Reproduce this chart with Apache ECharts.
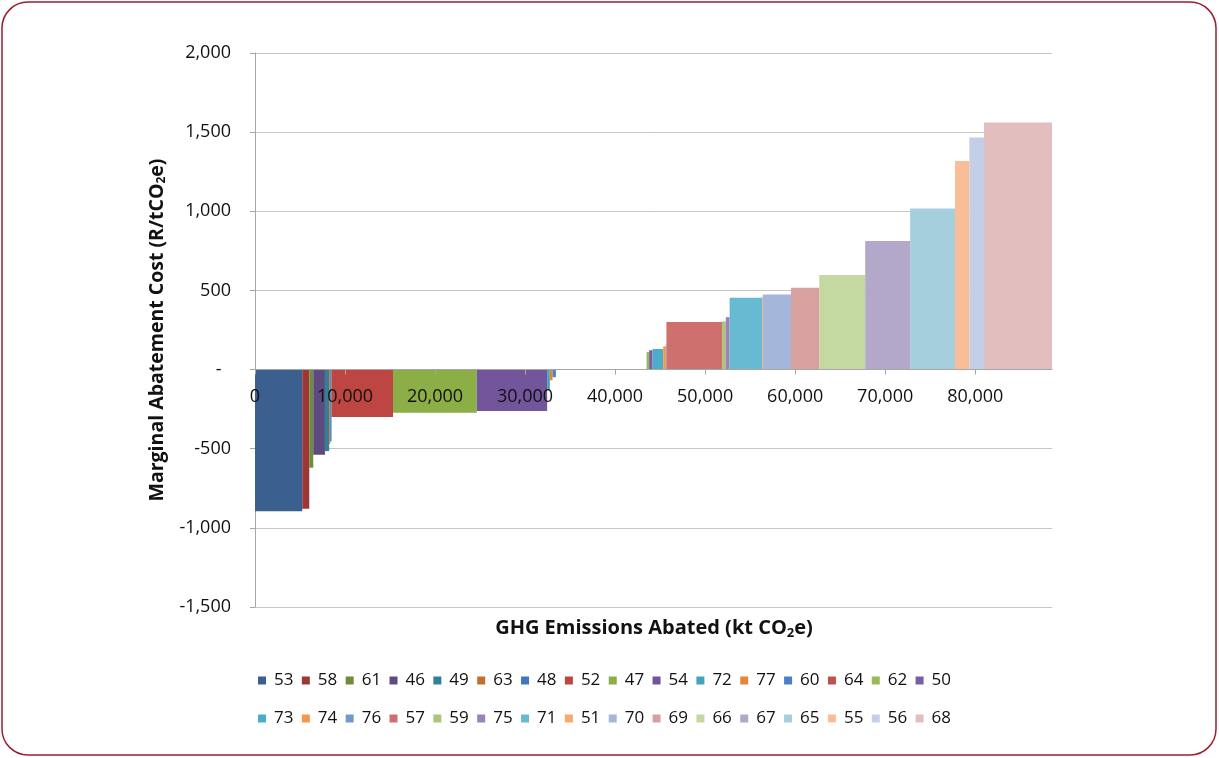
<!DOCTYPE html>
<html>
<head>
<meta charset="utf-8">
<title>Marginal Abatement Cost Curve</title>
<script src="https://cdn.jsdelivr.net/npm/echarts@6/dist/echarts.min.js"></script>
<style>
  html, body { margin: 0; padding: 0; background: #ffffff; }
  #chart { width: 1219px; height: 758px; }
</style>
</head>
<body>
<div id="chart"></div>
<script>
// Abatement measures, in merit order (cheapest first)
const measures = ['53','58','61','46','49','63','48','52','47','54','72','77','60','64','62','50',
                  '73','74','76','57','59','75','71','51','70','69','66','67','65','55','56','68'];
// Emissions abated by each measure (kt CO2e) -> bar widths
const abated = [5250, 780, 440, 1300, 470, 110, 150, 6830, 9300, 7820, 300, 300, 370, 10070, 290, 380,
                1180, 300, 60, 6180, 420, 420, 3600, 90, 3130, 3140, 5100, 4990, 4990, 1590, 1630, 7550];
// Marginal abatement cost of each measure (R/tCO2e) -> bar heights
const cost = [-895, -880, -620, -538, -515, -470, -455, -300, -272, -262, -130, -68, -48, 0, 110, 122,
              130, 147, 160, 300, 304, 331, 454, 460, 475, 517, 597, 812, 1017, 1318, 1466, 1561];
// Y-axis tick values
const yTicks = [-1500, -1000, -500, 0, 500, 1000, 1500, 2000];

// Series colours (Office-style palette with shades and tints)
const palette = ['#3b5f8e','#9b3734','#6f8b3d','#5d4a80','#2f8198','#c0702b',
                 '#4176bb','#bd4542','#8cae47','#73559c','#42a3bf','#e5853a',
                 '#4c7fc3','#c0504d','#95ba57','#7b5ba6','#4badc8','#f79646',
                 '#7398cd','#cd706e','#abc679','#9a82ba','#68bad3','#f9aa6a',
                 '#a4b7da','#d8a09f','#c4d8a1','#b3a7ca','#a6cfde','#f9bd97','#c3cfe6','#e3bebe'];

const FONT = '"Open Sans", "Liberation Sans", sans-serif';
const fmt = v => v.toLocaleString('en-US');

// cumulative start of each block along the x axis
const starts = [];
abated.reduce((acc, w, i) => { starts[i] = acc; return acc + w; }, 0);
const total = abated.reduce((a, b) => a + b, 0);

const gridTop = 53, gridBottom = 151, plotHeight = 758 - gridTop - gridBottom;
const yMin = yTicks[0], yMax = yTicks[yTicks.length - 1];
// distance from the plot's bottom edge up to the zero line
const zeroLift = plotHeight * (0 - yMin) / (yMax - yMin);

function renderBlock(params, api) {
  const p0 = api.coord([api.value(0), api.value(2)]);
  const p1 = api.coord([api.value(1), 0]);
  return {
    type: 'rect',
    shape: {
      x: p0[0],
      y: Math.min(p0[1], p1[1]),
      width: Math.max(p1[0] - p0[0], 0.6),
      height: Math.abs(p1[1] - p0[1])
    },
    style: { fill: api.visual('color') }
  };
}

const series = measures.map((m, i) => ({
  name: m,
  type: 'custom',
  renderItem: renderBlock,
  itemStyle: { color: palette[i] },
  encode: { x: [0, 1], y: 2 },
  data: [[starts[i], starts[i] + abated[i], cost[i]]],
  z: 2,
  silent: true
}));

const legendCommon = {
  orient: 'horizontal',
  icon: 'rect',
  itemWidth: 8,
  itemHeight: 8,
  itemGap: 8.4,
  selectedMode: false,
  textStyle: { fontFamily: FONT, fontSize: 17, color: '#111', width: 22, padding: [0, 0, 0, 3] }
};

const chart = echarts.init(document.getElementById('chart'), null, { renderer: 'canvas' });
chart.setOption({
  backgroundColor: '#ffffff',
  animation: false,
  grid: { left: 255, right: 167, top: gridTop, bottom: gridBottom, containLabel: false },
  xAxis: {
    type: 'value',
    min: 0,
    max: total,
    interval: 10000,
    position: 'bottom',
    offset: -zeroLift,
    z: 10,
    axisLine: { show: true, onZero: false, lineStyle: { color: '#a6a6a6', width: 1 } },
    axisTick: { show: true, length: 5, lineStyle: { color: '#a6a6a6' } },
    splitLine: { show: false },
    axisLabel: {
      margin: 18,
      showMaxLabel: false,
      fontFamily: FONT, fontSize: 18, color: '#111',
      formatter: v => (v % 10000 === 0 ? fmt(v) : '')
    }
  },
  yAxis: {
    type: 'value',
    min: yMin,
    max: yMax,
    interval: 500,
    axisLine: { show: true, onZero: false, lineStyle: { color: '#a6a6a6', width: 1 } },
    axisTick: { show: true, length: 5, lineStyle: { color: '#a6a6a6' } },
    splitLine: { show: true, lineStyle: { color: '#c6c6c6', width: 1 } },
    axisLabel: {
      margin: 24,
      fontFamily: FONT, fontSize: 18, color: '#111',
      formatter: v => (v === 0 ? '-  ' : fmt(v))
    }
  },
  legend: [
    Object.assign({}, legendCommon, { data: measures.slice(0, 16), left: 253, top: 667 }),
    Object.assign({}, legendCommon, { data: measures.slice(16), left: 253, top: 705 })
  ],
  graphic: [
    {
      type: 'rect',
      shape: { x: 2, y: 2, width: 1214, height: 753, r: 26 },
      style: { fill: 'none', stroke: '#9a1f2e', lineWidth: 1.5 },
      z: 100
    },
    {
      type: 'text',
      x: 157, y: 330,
      rotation: Math.PI / 2,
      style: {
        text: '{a|Marginal Abatement Cost (R/tCO}{s|2}{a|e)}',
        align: 'center',
        verticalAlign: 'middle',
        rich: {
          a: { fontFamily: FONT, fontSize: 19.5, fontWeight: 'bold', fill: '#111' },
          s: { fontFamily: FONT, fontSize: 12, fontWeight: 'bold', fill: '#111', padding: [10, 0, 0, 0] }
        }
      }
    },
    {
      type: 'text',
      x: 654, y: 628,
      style: {
        text: '{a|GHG Emissions Abated (kt CO}{s|2}{a|e)}',
        align: 'center',
        verticalAlign: 'middle',
        rich: {
          a: { fontFamily: FONT, fontSize: 20, fontWeight: 'bold', fill: '#111' },
          s: { fontFamily: FONT, fontSize: 13, fontWeight: 'bold', fill: '#111', padding: [10, 0, 0, 0] }
        }
      }
    }
  ],
  series: series
});
</script>
</body>
</html>
